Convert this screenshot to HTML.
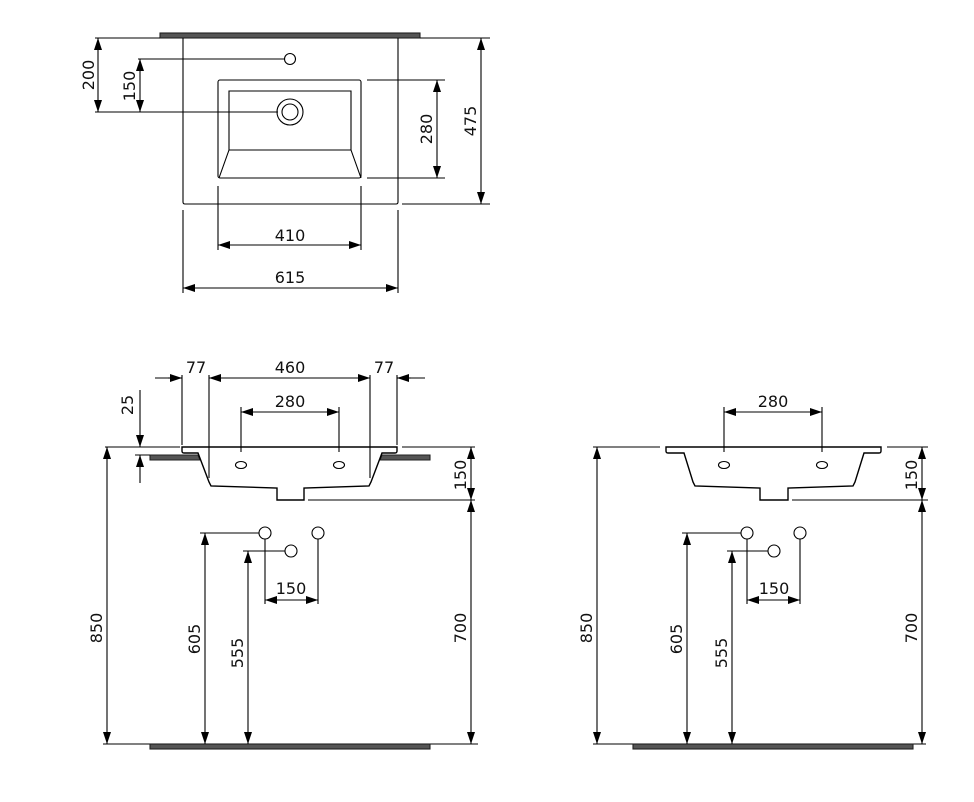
<!DOCTYPE html>
<html><head><meta charset="utf-8"><style>
html,body{margin:0;padding:0;background:#fff;}
svg{display:block;}
text{font-family:"DejaVu Sans","Liberation Sans",sans-serif;font-size:16px;fill:#111;}
</style></head><body>
<svg width="974" height="802" viewBox="0 0 974 802" xmlns="http://www.w3.org/2000/svg">
<defs>
<marker id="a" viewBox="0 0 12 8" refX="12" refY="4" markerWidth="12" markerHeight="8" markerUnits="userSpaceOnUse" orient="auto-start-reverse">
<path d="M0,0 L12,4 L0,8 z" fill="#000"/></marker>
</defs>
<g stroke="#000" stroke-width="1.1" fill="none">
<!-- TOP VIEW -->
<rect x="160" y="33" width="260" height="5" fill="#555" stroke="#222"/>
<path d="M183,38 V202 Q183,204 185,204 H396 Q398,204 398,202 V38"/>
<circle cx="290" cy="59" r="5.5"/>
<rect x="218" y="80" width="143" height="98" rx="2"/>
<path d="M229,150 V91 H351 V150 M219,178 L229,150 H351 L361,178"/>
<circle cx="290" cy="112" r="13"/><circle cx="290" cy="112" r="8"/>
<path d="M95,38 H160 M95,112 H278 M138,59 H285"/>
<line x1="98" y1="38" x2="98" y2="112" marker-start="url(#a)" marker-end="url(#a)"/>
<line x1="140" y1="59" x2="140" y2="112" marker-start="url(#a)" marker-end="url(#a)"/>
<path d="M367,80 H445 M367,178 H445 M420,38 H490 M402,204 H490"/>
<line x1="437" y1="80" x2="437" y2="178" marker-start="url(#a)" marker-end="url(#a)"/>
<line x1="481" y1="38" x2="481" y2="204" marker-start="url(#a)" marker-end="url(#a)"/>
<path d="M218,186 V250 M361,186 V250 M183,210 V293 M398,210 V293"/>
<line x1="218" y1="245" x2="361" y2="245" marker-start="url(#a)" marker-end="url(#a)"/>
<line x1="183" y1="288" x2="398" y2="288" marker-start="url(#a)" marker-end="url(#a)"/>

<!-- FRONT VIEW LEFT -->
<path d="M150,455 H198 L200,460 H150 Z" fill="#555" stroke="#222"/>
<path d="M430,455 H382 L380,460 H430 Z" fill="#555" stroke="#222"/>
<path d="M182,447 H397 V451 Q397,453 395,453 H382 L371,482 L369,486 L304,488 V500 H277 V488 L211,486 L209,482 L198,453 H184 Q182,453 182,451 Z" stroke-width="1.4"/>
<ellipse cx="241" cy="465" rx="5.5" ry="3.5"/><ellipse cx="339" cy="465" rx="5.5" ry="3.5"/>
<path d="M182,375 V445 M209,375 V478 M370,375 V478 M397,375 V445"/>
<line x1="155" y1="378" x2="182" y2="378"/><line x1="168" y1="378" x2="182" y2="378" marker-end="url(#a)"/>
<line x1="209" y1="378" x2="370" y2="378" marker-start="url(#a)" marker-end="url(#a)"/>
<line x1="397" y1="378" x2="425" y2="378"/><line x1="411" y1="378" x2="397" y2="378" marker-end="url(#a)"/>
<path d="M241,407 V452 M339,407 V452"/>
<line x1="241" y1="412" x2="339" y2="412" marker-start="url(#a)" marker-end="url(#a)"/>
<path d="M105,447 H180 M135,455 H150 M402,447 H475 M308,500 H475"/>
<line x1="140" y1="390" x2="140" y2="447" marker-end="url(#a)"/>
<line x1="140" y1="483" x2="140" y2="455" marker-end="url(#a)"/>
<line x1="471" y1="447" x2="471" y2="500" marker-start="url(#a)" marker-end="url(#a)"/>
<line x1="107" y1="447" x2="107" y2="744" marker-start="url(#a)" marker-end="url(#a)"/>
<line x1="471" y1="500" x2="471" y2="744" marker-start="url(#a)" marker-end="url(#a)"/>
<path d="M103,744 H478"/>
<rect x="150" y="744" width="280" height="5" fill="#555" stroke="#222"/>
<circle cx="265" cy="533" r="6"/><circle cx="318" cy="533" r="6"/><circle cx="291" cy="551" r="6"/>
<path d="M200,533 H259 M243,551 H285 M265,539 V604 M318,539 V604"/>
<line x1="205" y1="533" x2="205" y2="744" marker-start="url(#a)" marker-end="url(#a)"/>
<line x1="248" y1="551" x2="248" y2="744" marker-start="url(#a)" marker-end="url(#a)"/>
<line x1="265" y1="600" x2="318" y2="600" marker-start="url(#a)" marker-end="url(#a)"/>

<!-- FRONT VIEW RIGHT -->
<path d="M666,447 H881 V451 Q881,453 879,453 H864 L855,482 L853,486 L788,488 V500 H760 V488 L695,486 L693,482 L684,453 H668 Q666,453 666,451 Z" stroke-width="1.4"/>
<ellipse cx="724" cy="465" rx="5.5" ry="3.5"/><ellipse cx="822" cy="465" rx="5.5" ry="3.5"/>
<path d="M724,407 V452 M822,407 V452"/>
<line x1="724" y1="412" x2="822" y2="412" marker-start="url(#a)" marker-end="url(#a)"/>
<path d="M593,447 H660 M887,447 H928 M792,500 H928"/>
<line x1="597" y1="447" x2="597" y2="744" marker-start="url(#a)" marker-end="url(#a)"/>
<line x1="922" y1="447" x2="922" y2="500" marker-start="url(#a)" marker-end="url(#a)"/>
<line x1="922" y1="500" x2="922" y2="744" marker-start="url(#a)" marker-end="url(#a)"/>
<path d="M593,744 H926"/>
<rect x="633" y="744" width="280" height="5" fill="#555" stroke="#222"/>
<circle cx="747" cy="533" r="6"/><circle cx="800" cy="533" r="6"/><circle cx="774" cy="551" r="6"/>
<path d="M682,533 H741 M727,551 H768 M747,539 V604 M800,539 V604"/>
<line x1="687" y1="533" x2="687" y2="744" marker-start="url(#a)" marker-end="url(#a)"/>
<line x1="732" y1="551" x2="732" y2="744" marker-start="url(#a)" marker-end="url(#a)"/>
<line x1="747" y1="600" x2="800" y2="600" marker-start="url(#a)" marker-end="url(#a)"/>
</g>
<g text-anchor="middle">
<text transform="translate(94,75) rotate(-90)">200</text>
<text transform="translate(135,86) rotate(-90)">150</text>
<text transform="translate(432,129) rotate(-90)">280</text>
<text transform="translate(476,121) rotate(-90)">475</text>
<text x="290" y="241">410</text>
<text x="290" y="283">615</text>
<text x="196" y="373">77</text>
<text x="290" y="373">460</text>
<text x="384" y="373">77</text>
<text x="290" y="407">280</text>
<text transform="translate(133,405) rotate(-90)">25</text>
<text transform="translate(466,475) rotate(-90)">150</text>
<text transform="translate(102,628) rotate(-90)">850</text>
<text transform="translate(466,628) rotate(-90)">700</text>
<text transform="translate(200,639) rotate(-90)">605</text>
<text transform="translate(243,653) rotate(-90)">555</text>
<text x="291" y="594">150</text>
<text x="773" y="407">280</text>
<text transform="translate(917,475) rotate(-90)">150</text>
<text transform="translate(592,628) rotate(-90)">850</text>
<text transform="translate(917,628) rotate(-90)">700</text>
<text transform="translate(682,639) rotate(-90)">605</text>
<text transform="translate(727,653) rotate(-90)">555</text>
<text x="774" y="594">150</text>
</g>
</svg>
</body></html>
